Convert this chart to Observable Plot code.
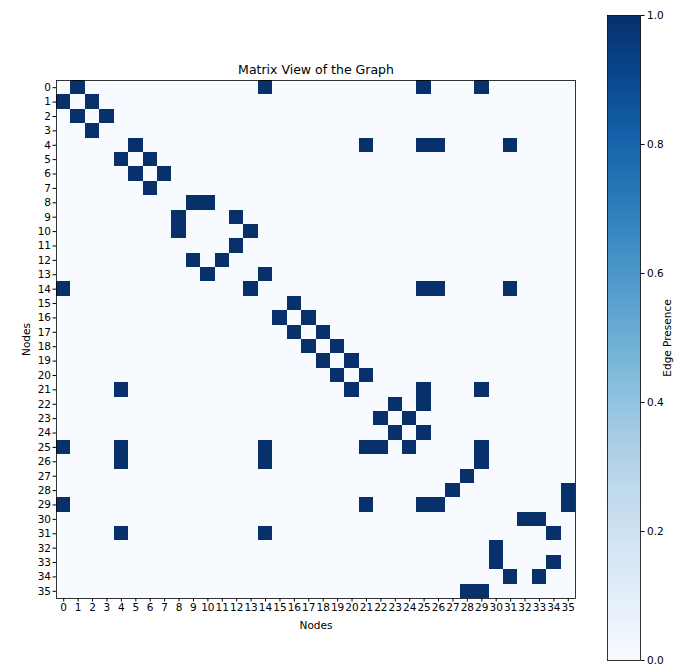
<!DOCTYPE html>
<html><head><meta charset="utf-8">
<script src="https://cdn.jsdelivr.net/npm/d3@7"></script>
<script src="https://cdn.jsdelivr.net/npm/@observablehq/plot@0.6"></script>
<style>
body{margin:0;background:#fff}
#wrap{position:relative;width:681px;height:669px;background:#fff}
#main,#bar{position:absolute;top:0}
#main{left:0}
#bar{left:580px}
</style>
</head><body><div id="wrap"><div id="main"></div><div id="bar"></div></div>
<script>
const nodes = ["0","1","2","3","4","5","6","7","8","9","10","11","12","13","14","15","16","17","18","19","20","21","22","23","24","25","26","27","28","29","30","31","32","33","34","35"];
// adjacency: for each row node, the column nodes with an edge (value 1)
const adjacency = [
  [1,14,25,29],
  [0,2],
  [1,3],
  [2],
  [5,21,25,26,31],
  [4,6],
  [5,7],
  [6],
  [9,10],
  [8,12],
  [8,13],
  [12],
  [9,11],
  [10,14],
  [0,13,25,26,31],
  [16],
  [15,17],
  [16,18],
  [17,19],
  [18,20],
  [19,21],
  [4,20,25,29],
  [23,25],
  [22,24],
  [23,25],
  [0,4,14,21,22,24,29],
  [4,14,29],
  [28],
  [27,35],
  [0,21,25,26,35],
  [32,33],
  [4,14,34],
  [30],
  [30,34],
  [31,33],
  [28,29]
];
const colorbarTicks = [0, 0.2, 0.4, 0.6, 0.8, 1.0];
const titleText = "Matrix View of the Graph";
const axisLabel = "Nodes";
const colorbarLabel = "Edge Presence";

const cells = [];
nodes.forEach((r, i) => nodes.forEach((c, j) => {
  cells.push({row: r, col: c, value: adjacency[i].includes(j) ? 1 : 0});
}));

const font = {fontFamily: "DejaVu Sans, sans-serif", fontSize: "10.5px", background: "white", color: "#000"};

const main = Plot.plot({
  width: 580, height: 669,
  marginLeft: 56, marginRight: 5, marginTop: 80, marginBottom: 71,
  style: font,
  x: {type: "band", domain: nodes, padding: 0, round: false},
  y: {type: "band", domain: nodes, padding: 0, round: false},
  color: {type: "linear", scheme: "blues", domain: [0, 1]},
  marks: [
    Plot.cell(cells, {x: "col", y: "row", fill: "value", inset: 0, shapeRendering: "crispEdges"}),
    Plot.frame({stroke: "#000", strokeWidth: 0.8}),
    Plot.axisX({anchor: "bottom", tickSize: 3.5, tickPadding: 2, label: axisLabel, labelAnchor: "center", labelArrow: "none", labelOffset: 30}),
    Plot.axisY({anchor: "left", tickSize: 3.5, tickPadding: 2, label: axisLabel, labelAnchor: "center", labelArrow: "none", labelOffset: 34}),
    Plot.text([titleText], {frameAnchor: "top", lineAnchor: "bottom", dy: -7, text: d => d, fontSize: 12.5})
  ]
});
document.getElementById("main").appendChild(main);

const bar = Plot.plot({
  width: 101, height: 669,
  marginLeft: 27, marginRight: 41, marginTop: 15, marginBottom: 9,
  style: font,
  x: {domain: [0, 1], axis: null},
  y: {domain: [0, 1], axis: null},
  color: {type: "linear", scheme: "blues", domain: [0, 1]},
  marks: [
    Plot.raster({fill: (x, y) => y, x1: 0, x2: 1, y1: 0, y2: 1, width: 1, height: 256, imageRendering: "auto"}),
    Plot.frame({stroke: "#000", strokeWidth: 0.8}),
    Plot.axisY({anchor: "right", ticks: colorbarTicks, tickFormat: ".1f", tickSize: 3.5, tickPadding: 3, label: colorbarLabel, labelAnchor: "center", labelArrow: "none", labelOffset: 30})
  ]
});
document.getElementById("bar").appendChild(bar);
</script>
</body></html>
